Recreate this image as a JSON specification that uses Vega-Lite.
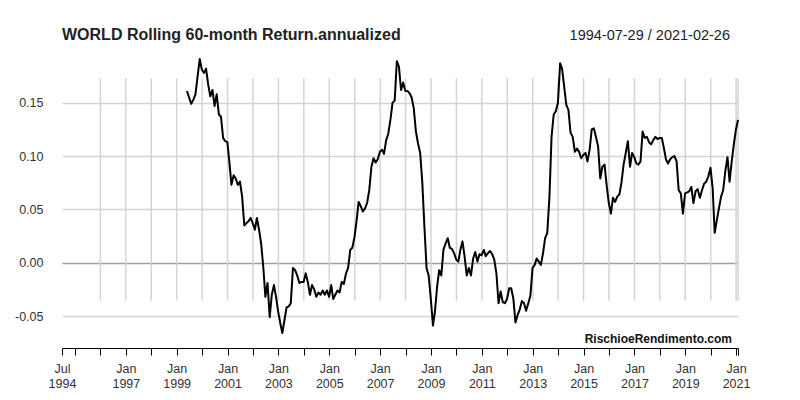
{
  "$schema": "https://vega.github.io/schema/vega-lite/v6.json",
  "width": 676,
  "height": 298,
  "autosize": {"type": "none"},
  "padding": {"left": 62, "top": 50, "right": 62, "bottom": 52},
  "background": "white",
  "config": {"view": {"stroke": null}, "font": "Liberation Sans"},
  "datasets": {
    "world": [
      {"date":"1999-06-28","value":0.161},{"date":"1999-07-28","value":0.155},{"date":"1999-08-28","value":0.149},{"date":"1999-09-28","value":0.153},{"date":"1999-10-28","value":0.158},{"date":"1999-11-28","value":0.175},{"date":"1999-12-28","value":0.191},
      {"date":"2000-01-28","value":0.181},{"date":"2000-02-28","value":0.178},{"date":"2000-03-28","value":0.182},{"date":"2000-04-28","value":0.167},{"date":"2000-05-28","value":0.156},{"date":"2000-06-28","value":0.162},{"date":"2000-07-28","value":0.147},{"date":"2000-08-28","value":0.158},{"date":"2000-09-28","value":0.139},{"date":"2000-10-28","value":0.137},{"date":"2000-11-28","value":0.117},{"date":"2000-12-28","value":0.114},
      {"date":"2001-01-28","value":0.113},{"date":"2001-02-28","value":0.093},{"date":"2001-03-28","value":0.073},{"date":"2001-04-28","value":0.082},{"date":"2001-05-28","value":0.079},{"date":"2001-06-28","value":0.073},{"date":"2001-07-28","value":0.076},{"date":"2001-08-28","value":0.062},{"date":"2001-09-28","value":0.035},{"date":"2001-10-28","value":0.037},{"date":"2001-11-28","value":0.039},{"date":"2001-12-28","value":0.042},
      {"date":"2002-01-28","value":0.037},{"date":"2002-02-28","value":0.031},{"date":"2002-03-28","value":0.042},{"date":"2002-04-28","value":0.031},{"date":"2002-05-28","value":0.018},{"date":"2002-06-28","value":-0.004},{"date":"2002-07-28","value":-0.032},{"date":"2002-08-28","value":-0.019},{"date":"2002-09-28","value":-0.051},{"date":"2002-10-28","value":-0.030},{"date":"2002-11-28","value":-0.021},{"date":"2002-12-28","value":-0.032},
      {"date":"2003-01-28","value":-0.046},{"date":"2003-02-28","value":-0.057},{"date":"2003-03-28","value":-0.066},{"date":"2003-04-28","value":-0.054},{"date":"2003-05-28","value":-0.042},{"date":"2003-06-28","value":-0.041},{"date":"2003-07-28","value":-0.038},{"date":"2003-08-28","value":-0.005},{"date":"2003-09-28","value":-0.007},{"date":"2003-10-28","value":-0.012},{"date":"2003-11-28","value":-0.019},{"date":"2003-12-28","value":-0.018},
      {"date":"2004-01-28","value":-0.018},{"date":"2004-02-28","value":-0.010},{"date":"2004-03-28","value":-0.018},{"date":"2004-04-28","value":-0.030},{"date":"2004-05-28","value":-0.021},{"date":"2004-06-28","value":-0.025},{"date":"2004-07-28","value":-0.032},{"date":"2004-08-28","value":-0.028},{"date":"2004-09-28","value":-0.030},{"date":"2004-10-28","value":-0.026},{"date":"2004-11-28","value":-0.030},{"date":"2004-12-28","value":-0.026},
      {"date":"2005-01-28","value":-0.032},{"date":"2005-02-28","value":-0.021},{"date":"2005-03-28","value":-0.034},{"date":"2005-04-28","value":-0.030},{"date":"2005-05-28","value":-0.026},{"date":"2005-06-28","value":-0.028},{"date":"2005-07-28","value":-0.018},{"date":"2005-08-28","value":-0.020},{"date":"2005-09-28","value":-0.010},{"date":"2005-10-28","value":-0.005},{"date":"2005-11-28","value":0.012},{"date":"2005-12-28","value":0.014},
      {"date":"2006-01-28","value":0.024},{"date":"2006-02-28","value":0.040},{"date":"2006-03-28","value":0.057},{"date":"2006-04-28","value":0.053},{"date":"2006-05-28","value":0.048},{"date":"2006-06-28","value":0.051},{"date":"2006-07-28","value":0.056},{"date":"2006-08-28","value":0.068},{"date":"2006-09-28","value":0.090},{"date":"2006-10-28","value":0.098},{"date":"2006-11-28","value":0.094},{"date":"2006-12-28","value":0.097},
      {"date":"2007-01-28","value":0.104},{"date":"2007-02-28","value":0.106},{"date":"2007-03-28","value":0.102},{"date":"2007-04-28","value":0.115},{"date":"2007-05-28","value":0.121},{"date":"2007-06-28","value":0.134},{"date":"2007-07-28","value":0.150},{"date":"2007-08-28","value":0.152},{"date":"2007-09-28","value":0.189},{"date":"2007-10-28","value":0.184},{"date":"2007-11-28","value":0.162},{"date":"2007-12-28","value":0.169},
      {"date":"2008-01-28","value":0.161},{"date":"2008-02-28","value":0.161},{"date":"2008-03-28","value":0.159},{"date":"2008-04-28","value":0.155},{"date":"2008-05-28","value":0.145},{"date":"2008-06-28","value":0.123},{"date":"2008-07-28","value":0.112},{"date":"2008-08-28","value":0.103},{"date":"2008-09-28","value":0.075},{"date":"2008-10-28","value":0.034},{"date":"2008-11-28","value":-0.005},{"date":"2008-12-28","value":-0.012},
      {"date":"2009-01-28","value":-0.034},{"date":"2009-02-28","value":-0.059},{"date":"2009-03-28","value":-0.046},{"date":"2009-04-28","value":-0.023},{"date":"2009-05-28","value":-0.007},{"date":"2009-06-28","value":-0.012},{"date":"2009-07-28","value":0.012},{"date":"2009-08-28","value":0.018},{"date":"2009-09-28","value":0.023},{"date":"2009-10-28","value":0.014},{"date":"2009-11-28","value":0.013},{"date":"2009-12-28","value":0.009},
      {"date":"2010-01-28","value":0.003},{"date":"2010-02-28","value":0.001},{"date":"2010-03-28","value":0.012},{"date":"2010-04-28","value":0.020},{"date":"2010-05-28","value":0.006},{"date":"2010-06-28","value":-0.012},{"date":"2010-07-28","value":-0.005},{"date":"2010-08-28","value":-0.012},{"date":"2010-09-28","value":0.004},{"date":"2010-10-28","value":0.010},{"date":"2010-11-28","value":0.001},{"date":"2010-12-28","value":0.008},
      {"date":"2011-01-28","value":0.007},{"date":"2011-02-28","value":0.012},{"date":"2011-03-28","value":0.006},{"date":"2011-04-28","value":0.009},{"date":"2011-05-28","value":0.011},{"date":"2011-06-28","value":0.008},{"date":"2011-07-28","value":0.003},{"date":"2011-08-28","value":-0.010},{"date":"2011-09-28","value":-0.038},{"date":"2011-10-28","value":-0.027},{"date":"2011-11-28","value":-0.037},{"date":"2011-12-28","value":-0.038},
      {"date":"2012-01-28","value":-0.034},{"date":"2012-02-28","value":-0.024},{"date":"2012-03-28","value":-0.024},{"date":"2012-04-28","value":-0.034},{"date":"2012-05-28","value":-0.056},{"date":"2012-06-28","value":-0.049},{"date":"2012-07-28","value":-0.044},{"date":"2012-08-28","value":-0.036},{"date":"2012-09-28","value":-0.038},{"date":"2012-10-28","value":-0.045},{"date":"2012-11-28","value":-0.038},{"date":"2012-12-28","value":-0.031},
      {"date":"2013-01-28","value":-0.005},{"date":"2013-02-28","value":-0.002},{"date":"2013-03-28","value":0.004},{"date":"2013-04-28","value":0.001},{"date":"2013-05-28","value":-0.002},{"date":"2013-06-28","value":0.009},{"date":"2013-07-28","value":0.023},{"date":"2013-08-28","value":0.028},{"date":"2013-09-28","value":0.062},{"date":"2013-10-28","value":0.118},{"date":"2013-11-28","value":0.139},{"date":"2013-12-28","value":0.142},
      {"date":"2014-01-28","value":0.150},{"date":"2014-02-28","value":0.187},{"date":"2014-03-28","value":0.182},{"date":"2014-04-28","value":0.165},{"date":"2014-05-28","value":0.148},{"date":"2014-06-28","value":0.143},{"date":"2014-07-28","value":0.122},{"date":"2014-08-28","value":0.118},{"date":"2014-09-28","value":0.104},{"date":"2014-10-28","value":0.107},{"date":"2014-11-28","value":0.104},{"date":"2014-12-28","value":0.098},
      {"date":"2015-01-28","value":0.101},{"date":"2015-02-28","value":0.103},{"date":"2015-03-28","value":0.095},{"date":"2015-04-28","value":0.106},{"date":"2015-05-28","value":0.125},{"date":"2015-06-28","value":0.126},{"date":"2015-07-28","value":0.118},{"date":"2015-08-28","value":0.109},{"date":"2015-09-28","value":0.079},{"date":"2015-10-28","value":0.090},{"date":"2015-11-28","value":0.092},{"date":"2015-12-28","value":0.073},
      {"date":"2016-01-28","value":0.056},{"date":"2016-02-28","value":0.046},{"date":"2016-03-28","value":0.061},{"date":"2016-04-28","value":0.057},{"date":"2016-05-28","value":0.062},{"date":"2016-06-28","value":0.064},{"date":"2016-07-28","value":0.075},{"date":"2016-08-28","value":0.092},{"date":"2016-09-28","value":0.103},{"date":"2016-10-28","value":0.114},{"date":"2016-11-28","value":0.090},{"date":"2016-12-28","value":0.103},
      {"date":"2017-01-28","value":0.099},{"date":"2017-02-28","value":0.093},{"date":"2017-03-28","value":0.092},{"date":"2017-04-28","value":0.095},{"date":"2017-05-28","value":0.123},{"date":"2017-06-28","value":0.117},{"date":"2017-07-28","value":0.118},{"date":"2017-08-28","value":0.113},{"date":"2017-09-28","value":0.111},{"date":"2017-10-28","value":0.115},{"date":"2017-11-28","value":0.118},{"date":"2017-12-28","value":0.116},
      {"date":"2018-01-28","value":0.117},{"date":"2018-02-28","value":0.117},{"date":"2018-03-28","value":0.108},{"date":"2018-04-28","value":0.097},{"date":"2018-05-28","value":0.093},{"date":"2018-06-28","value":0.097},{"date":"2018-07-28","value":0.099},{"date":"2018-08-28","value":0.100},{"date":"2018-09-28","value":0.095},{"date":"2018-10-28","value":0.068},{"date":"2018-11-28","value":0.065},{"date":"2018-12-28","value":0.046},
      {"date":"2019-01-28","value":0.065},{"date":"2019-02-28","value":0.066},{"date":"2019-03-28","value":0.067},{"date":"2019-04-28","value":0.071},{"date":"2019-05-28","value":0.056},{"date":"2019-06-28","value":0.067},{"date":"2019-07-28","value":0.069},{"date":"2019-08-28","value":0.061},{"date":"2019-09-28","value":0.068},{"date":"2019-10-28","value":0.074},{"date":"2019-11-28","value":0.076},{"date":"2019-12-28","value":0.081},
      {"date":"2020-01-28","value":0.089},{"date":"2020-02-28","value":0.070},{"date":"2020-03-28","value":0.028},{"date":"2020-04-28","value":0.040},{"date":"2020-05-28","value":0.051},{"date":"2020-06-28","value":0.062},{"date":"2020-07-28","value":0.068},{"date":"2020-08-28","value":0.086},{"date":"2020-09-28","value":0.099},{"date":"2020-10-28","value":0.076},{"date":"2020-11-28","value":0.095},{"date":"2020-12-28","value":0.111},
      {"date":"2021-01-28","value":0.125},{"date":"2021-02-26","value":0.134}
    ],
    "grid": [
      {"date":"1996-01-31"},{"date":"1997-01-31"},{"date":"1998-01-31"},{"date":"1999-01-31"},{"date":"2000-01-31"},{"date":"2001-01-31"},{"date":"2002-01-31"},{"date":"2003-01-31"},{"date":"2004-01-31"},{"date":"2005-01-31"},{"date":"2006-01-31"},{"date":"2007-01-31"},{"date":"2008-01-31"},{"date":"2009-01-31"},{"date":"2010-01-31"},{"date":"2011-01-31"},{"date":"2012-01-31"},{"date":"2013-01-31"},{"date":"2014-01-31"},{"date":"2015-01-31"},{"date":"2016-01-31"},{"date":"2017-01-31"},{"date":"2018-01-31"},{"date":"2019-01-31"},{"date":"2020-01-31"},{"date":"2021-01-29"},{"date":"2021-02-26"}
    ]
  },
  "layer": [
    {
      "data": {"name": "grid"},
      "mark": {"type": "rule", "color": "#d4d4d4", "strokeWidth": 1.5},
      "encoding": {
        "x": {
          "field": "date", "type": "temporal",
          "scale": {"domain": [775440000000, 1614297600000], "nice": false},
          "axis": {
            "title": null,
            "grid": false,
            "tickCount": 200,
            "values": [775440000000, 791510400000, 823046400000, 854668800000, 886204800000, 917740800000, 949276800000, 980899200000, 1012435200000, 1043971200000, 1075507200000, 1107129600000, 1138665600000, 1170201600000, 1201737600000, 1233360000000, 1264896000000, 1296432000000, 1327968000000, 1359590400000, 1391126400000, 1422662400000, 1454198400000, 1485820800000, 1517356800000, 1548892800000, 1580428800000, 1611878400000, 1614297600000],
            "labelExpr": "(utcyear(datum.value) == 1994 || (utcyear(datum.value) >= 1997 && utcyear(datum.value) % 2 == 1 && utcmonth(datum.value) == 0)) ? [utcFormat(datum.value, '%b'), utcFormat(datum.value, '%Y')] : ''",
            "labelOverlap": false,
            "labelFont": "Liberation Sans",
            "labelFontSize": 12.5,
            "labelColor": "#333333",
            "labelBaseline": "top",
            "labelPadding": 7,
            "labelLineHeight": 15,
            "labelFlush": false,
            "domainColor": "#000000",
            "domainWidth": 1,
            "tickColor": "#000000",
            "tickSize": 7,
            "tickWidth": 1
          }
        },
        "y": {
          "datum": 0.173, "type": "quantitative",
          "scale": {"domain": [-0.08, 0.1995], "nice": false, "zero": false},
          "axis": {
            "title": null,
            "values": [-0.05, 0, 0.05, 0.1, 0.15],
            "labelExpr": "replace(format(datum.value, '.2f'), '\u2212', '-')",
            "domain": false,
            "ticks": false,
            "tickSize": 0,
            "labelPadding": 19,
            "labelFont": "Liberation Sans",
            "labelFontSize": 12.5,
            "labelColor": "#333333",
            "grid": true,
            "gridColor": {"condition": {"test": "datum.value === 0", "value": "#9e9e9e"}, "value": "#d4d4d4"},
            "gridWidth": 1.3
          }
        },
        "y2": {"datum": -0.0356}
      }
    },
    {
      "data": {"name": "world"},
      "mark": {"type": "line", "color": "#000000", "strokeWidth": 2, "strokeJoin": "round"},
      "encoding": {
        "x": {"field": "date", "type": "temporal"},
        "y": {"field": "value", "type": "quantitative"}
      }
    },
    {
      "data": {"values": [{"label": "WORLD Rolling 60-month Return.annualized"}]},
      "mark": {"type": "text", "align": "left", "baseline": "alphabetic", "dx": 0, "dy": -10, "font": "Liberation Sans", "fontSize": 16, "fontWeight": "bold", "color": "#222222"},
      "encoding": {
        "text": {"field": "label"},
        "x": {"datum": 775440000000, "type": "temporal"},
        "y": {"datum": 0.1995, "type": "quantitative"}
      }
    },
    {
      "data": {"values": [{"label": "1994-07-29 / 2021-02-26"}]},
      "mark": {"type": "text", "align": "right", "baseline": "alphabetic", "dx": -8, "dy": -10, "font": "Liberation Sans", "fontSize": 14.5, "color": "#222222"},
      "encoding": {
        "text": {"field": "label"},
        "x": {"datum": 1614297600000, "type": "temporal"},
        "y": {"datum": 0.1995, "type": "quantitative"}
      }
    },
    {
      "data": {"values": [{"label": "RischioeRendimento.com"}]},
      "mark": {"type": "text", "align": "right", "baseline": "alphabetic", "dx": -6, "dy": -5, "font": "Liberation Sans", "fontSize": 12, "fontWeight": "bold", "color": "#111111"},
      "encoding": {
        "text": {"field": "label"},
        "x": {"datum": 1614297600000, "type": "temporal"},
        "y": {"datum": -0.08, "type": "quantitative"}
      }
    }
  ]
}
